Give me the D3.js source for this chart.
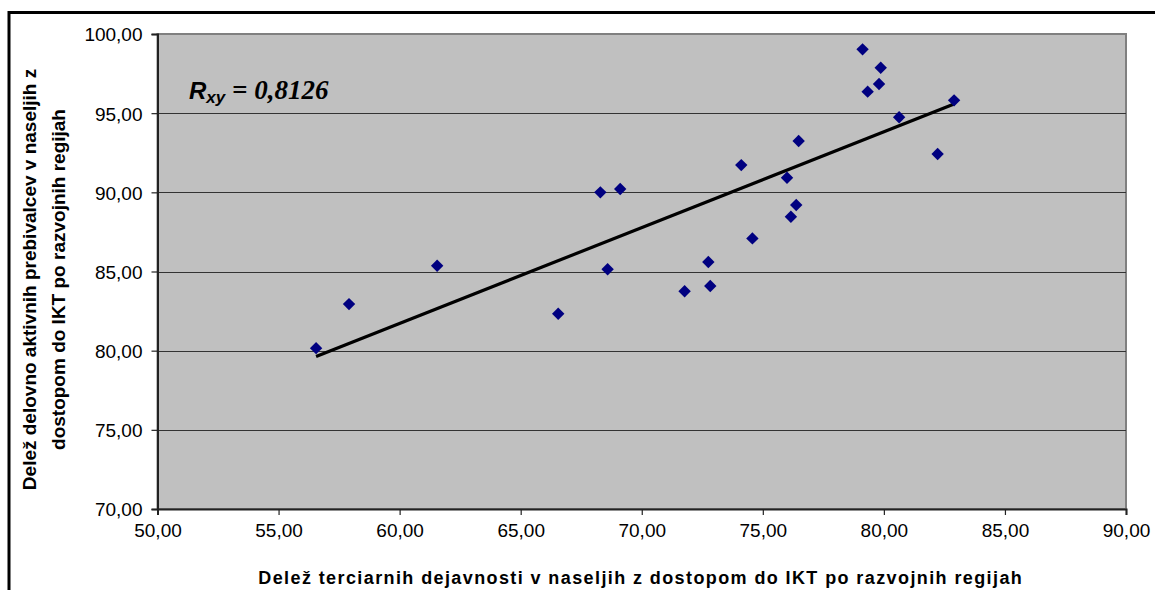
<!DOCTYPE html>
<html>
<head>
<meta charset="utf-8">
<script src="https://cdn.jsdelivr.net/npm/d3@7"></script>
<style>
    body { margin: 0; padding: 0; background: #fff; }
    svg { display: block; }
</style>
</head>
<body>
<div id="chart"></div>
<script>
    // data
    const tercShare = [56.55, 57.91, 61.55, 66.55, 68.29, 69.11, 68.59, 71.77, 72.75, 72.83, 74.11, 74.57,
        76.00, 76.16, 76.38, 76.48, 79.12, 79.87, 79.80, 79.33, 80.63, 82.90, 82.22];
    const ictShare = [80.16, 82.94, 85.36, 82.33, 90.00, 90.21, 85.14, 83.75, 85.60, 84.08, 91.72, 87.09,
        90.92, 88.46, 89.20, 93.24, 99.03, 97.87, 96.84, 96.36, 94.74, 95.81, 92.42];
    const xTicks = [50, 55, 60, 65, 70, 75, 80, 85, 90];
    const yTicks = [70, 75, 80, 85, 90, 95, 100];
    const xTitle = "Delež terciarnih dejavnosti v naseljih z dostopom do IKT po razvojnih regijah";
    const yTitle = ["Delež delovno aktivnih prebivalcev v naseljih z", "dostopom do IKT po razvojnih regijah"];
    const rText = "0,8126";

    const width = 1155, height = 590;
    const plot = { left: 157.5, right: 1126, top: 34, bottom: 509 };
    const sans = "'Liberation Sans', Arial, sans-serif";

    const svg = d3.select("#chart").append("svg")
        .attr("width", width)
        .attr("height", height);

    // chart frame (only top and left visible)
    svg.append("path")
        .attr("d", "M9,590 V12.5 H1155")
        .attr("fill", "none")
        .attr("stroke", "#000")
        .attr("stroke-width", 3);

    const x = d3.scaleLinear().domain([50, 90]).range([plot.left, plot.right]);
    const y = d3.scaleLinear().domain([70, 100]).range([plot.bottom, plot.top]);
    const fmt = d => d3.format(".2f")(d).replace(".", ",");

    // plot background
    svg.append("rect")
        .attr("x", plot.left).attr("y", plot.top)
        .attr("width", plot.right - plot.left).attr("height", plot.bottom - plot.top)
        .attr("fill", "#c0c0c0")
        .attr("stroke", "#808080")
        .attr("stroke-width", 2);

    // gridlines
    svg.append("g")
        .selectAll("line")
        .data(yTicks.filter(d => d > 70 && d < 100))
        .join("line")
        .attr("x1", plot.left).attr("x2", plot.right)
        .attr("y1", d => Math.round(y(d)) + 0.5).attr("y2", d => Math.round(y(d)) + 0.5)
        .attr("stroke", "#333")
        .attr("stroke-width", 1);

    // axes
    const xAxis = svg.append("g")
        .attr("transform", `translate(0,${plot.bottom})`)
        .call(d3.axisBottom(x).tickValues(xTicks).tickFormat(fmt).tickSize(6).tickPadding(4));
    const yAxis = svg.append("g")
        .attr("transform", `translate(${plot.left},0)`)
        .call(d3.axisLeft(y).tickValues(yTicks).tickFormat(fmt).tickSize(6).tickPadding(9));
    [xAxis, yAxis].forEach(a => {
        a.attr("font-family", sans).attr("font-size", 19);
        a.select(".domain").attr("stroke", "#222").attr("stroke-width", 2);
        a.selectAll(".tick line").attr("stroke", "#222").attr("stroke-width", 1.2);
        a.selectAll(".tick text").attr("fill", "#000");
    });
    xAxis.selectAll(".tick text").attr("dy", "0.95em");
    yAxis.selectAll(".tick text").attr("dy", "0.36em");

    // trend line (least squares)
    const pts = tercShare.map((v, i) => [v, ictShare[i]]);
    const mx = d3.mean(tercShare), my = d3.mean(ictShare);
    const slope = d3.sum(pts, p => (p[0] - mx) * (p[1] - my)) / d3.sum(pts, p => (p[0] - mx) ** 2);
    const icpt = my - slope * mx;
    const ext = d3.extent(tercShare);
    svg.append("line")
        .attr("x1", x(ext[0])).attr("y1", y(icpt + slope * ext[0]))
        .attr("x2", x(ext[1])).attr("y2", y(icpt + slope * ext[1]))
        .attr("stroke", "#000")
        .attr("stroke-width", 3.2);

    // markers
    const r = 6.2;
    svg.append("g")
        .selectAll("path")
        .data(pts)
        .join("path")
        .attr("d", d => {
            const cx = x(d[0]), cy = y(d[1]);
            return `M${cx},${cy - r}L${cx + r},${cy}L${cx},${cy + r}L${cx - r},${cy}Z`;
        })
        .attr("fill", "#000080");

    // correlation label
    const rt = svg.append("text")
        .attr("x", 189).attr("y", 99)
        .attr("font-weight", "bold").attr("font-style", "italic");
    rt.append("tspan").attr("font-family", sans).attr("font-size", 24).text("R");
    rt.append("tspan").attr("font-family", sans).attr("font-size", 17).attr("dy", 4).text("xy");
    rt.append("tspan").attr("font-family", "'Liberation Serif', 'Times New Roman', serif").attr("font-size", 27).attr("dy", -4).text(" = " + rText);

    // axis titles
    svg.append("text")
        .attr("x", (plot.left + plot.right) / 2 - 1).attr("y", 584)
        .attr("text-anchor", "middle")
        .attr("font-family", sans)
        .attr("font-size", 18).attr("font-weight", "bold")
        .attr("letter-spacing", 1.4)
        .text(xTitle);

    const yt = svg.append("text")
        .attr("transform", `translate(0,${(plot.top + plot.bottom) / 2 + 8}) rotate(-90)`)
        .attr("text-anchor", "middle")
        .attr("font-family", sans)
        .attr("font-size", 19).attr("font-weight", "bold");
    yt.selectAll("tspan")
        .data(yTitle)
        .join("tspan")
        .attr("x", 0)
        .attr("y", (d, i) => 36 + i * 29)
        .text(d => d);
</script>
</body>
</html>
